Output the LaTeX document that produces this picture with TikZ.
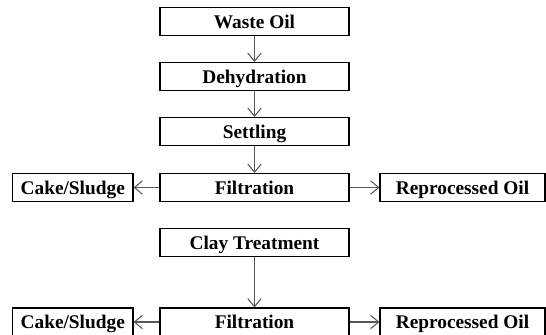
\documentclass[tikz,border=0pt]{standalone}
\usepackage{fontspec}
\setmainfont{Liberation Serif}
\usetikzlibrary{arrows.meta}
\begin{document}
\begin{tikzpicture}[x=0.75pt,y=-0.75pt,
  box/.style={draw=black, line width=0.8pt, minimum height=28*0.75pt, inner sep=0pt, text height=11pt, text depth=1.2pt, font=\bfseries\fontsize{14.5}{16}\selectfont},
  mid/.style={box, minimum width=189*0.75pt},
  flow/.style={draw=black!65, line width=0.8pt, -{Straight Barb[length=6pt,width=10pt]}}]
\useasboundingbox (0,0) rectangle (546,335);
\node[mid] (w) at (254.5,21.5) {Waste Oil};
\node[mid] (d) at (254.5,76.5) {Dehydration};
\node[mid] (s) at (254.5,131.5) {Settling};
\node[mid] (f1) at (254.5,187.5) {Filtration};
\node[box, minimum width=120.5*0.75pt] (c1) at (72.75,187.5) {Cake/Sludge};
\node[box, minimum width=165*0.75pt] (r1) at (462.5,187.5) {Reprocessed Oil};
\node[mid] (ct) at (254.5,242.5) {Clay Treatment};
\node[mid] (f2) at (254.5,322) {Filtration};
\node[box, minimum width=120.5*0.75pt] (c2) at (72.75,322) {Cake/Sludge};
\node[box, minimum width=165*0.75pt] (r2) at (462.5,322) {Reprocessed Oil};
\draw[flow] (w) -- (d);
\draw[flow] (d) -- (s);
\draw[flow] (s) -- (f1);
\draw[flow] (f1) -- (c1);
\draw[flow] (f1) -- (r1);
\draw[flow] (ct) -- (f2);
\draw[flow] (f2) -- (c2);
\draw[flow] (f2) -- (r2);
\end{tikzpicture}
\end{document}
